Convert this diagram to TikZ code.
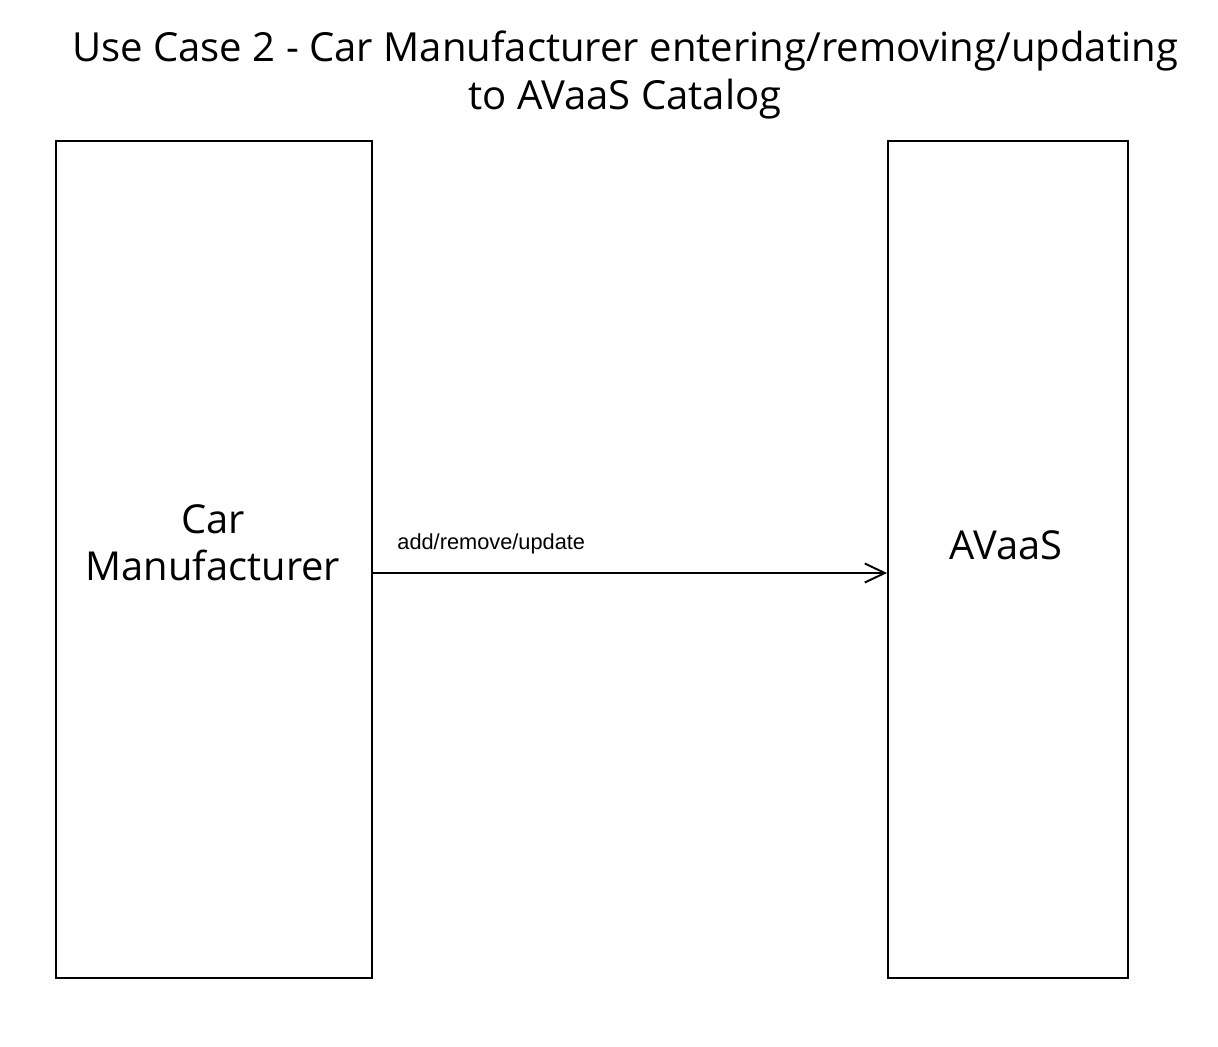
\documentclass[tikz,border=0pt]{standalone}
\usepackage{fontspec}
\setmainfont{Open Sans}
\newfontfamily\labelfont{Liberation Sans}
\usetikzlibrary{arrows.meta}

\begin{document}
\begin{tikzpicture}[x=0.02cm, y=-0.02cm,
                    party/.style={draw, line width=1.1pt, inner sep=0pt},
                    party text/.style={font=\fontsize{22.7}{27}\selectfont, align=center},
                    flow arrow/.style={-{Straight Barb[length=0.4cm, width=0.38cm, line width=1.1pt]}, line width=1.1pt}]
  \useasboundingbox (0,0) rectangle (1218,1046);

  \node[font=\fontsize{22.8}{27}\selectfont, align=center] (title) at (625,75) {Use Case 2 - Car Manufacturer entering/removing/updating\\to AVaaS Catalog};

  \node[party, minimum width=6.32cm, minimum height=16.74cm] (car) at (214,559.5) {};
  \node[party, minimum width=4.8cm, minimum height=16.74cm] (avaas) at (1008,559.5) {};
  \node[party text] (cartext) at (213,543) {Car\\Manufacturer};
  \node[party text] (avaastext) at (1006,545) {AVaaS};

  \draw[flow arrow] ([yshift=-0.27cm]car.east) -- node[pos=0, anchor=base west, xshift=0.47cm, yshift=0.47cm, inner sep=0pt, font=\labelfont\fontsize{12.4}{14}\selectfont] (flowlabel) {add/remove/update} ([yshift=-0.27cm]avaas.west);
\end{tikzpicture}
\end{document}
